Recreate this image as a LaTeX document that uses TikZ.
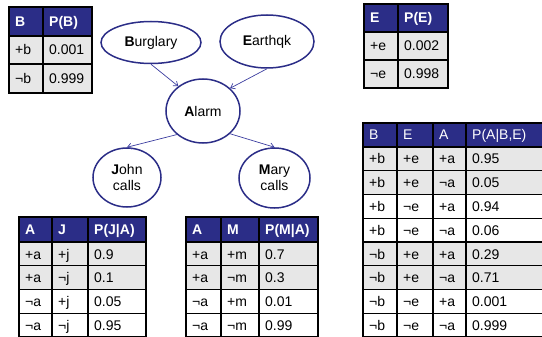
\documentclass[tikz,border=0pt]{standalone}
\usepackage{fontspec}
\setmainfont{Liberation Sans}
\usetikzlibrary{shapes.geometric,arrows.meta}
\definecolor{navy}{RGB}{43,45,135}
\definecolor{rowgray}{RGB}{231,231,231}
\definecolor{edgeblue}{RGB}{60,62,160}
\begin{document}
\begin{tikzpicture}[x=1pt,y=-1pt,
  bn/.style={ellipse, draw=navy, line width=1.5pt, inner sep=0pt, align=center,
    font=\fontsize{14}{16}\selectfont},
  edge/.style={draw=edgeblue, line width=0.7pt, -{Straight Barb[length=4pt,width=6pt]}},
  cell/.style={anchor=base west, inner sep=0pt, font=\fontsize{14}{16}\selectfont},
  hcell/.style={cell, text=white, font=\fontsize{14}{16}\selectfont\bfseries},
  hcellr/.style={cell, text=white},
  gridline/.style={line width=1.2pt, black, line cap=rect}]
\useasboundingbox (0,0) rectangle (542,337);

% ---------- Table P(B)
\fill[navy] (9,7) rectangle (92,36);
\fill[rowgray] (9,36) rectangle (92,93);
\foreach \y in {7,36,64,93} \draw[gridline] (9,\y) -- (92,\y);
\foreach \x in {9,43,92} \draw[gridline] (\x,7) -- (\x,93);
\node[hcell] (tb-h1) at (15,26.5) {B};
\node[hcell] (tb-h2) at (49,26.5) {P(B)};
\node[cell] (tb-11) at (15,55) {+b};
\node[cell] (tb-12) at (49,55) {0.001};
\node[cell] (tb-21) at (15,83.5) {¬b};
\node[cell] (tb-22) at (49,83.5) {0.999};

% ---------- Table P(E)
\fill[navy] (364,4) rectangle (448,32);
\fill[rowgray] (364,32) rectangle (448,88);
\foreach \y in {4,32,60,88} \draw[gridline] (364,\y) -- (448,\y);
\foreach \x in {364,398,448} \draw[gridline] (\x,4) -- (\x,88);
\node[hcell] (te-h1) at (370,23) {E};
\node[hcell] (te-h2) at (404,23) {P(E)};
\node[cell] (te-11) at (370,51) {+e};
\node[cell] (te-12) at (404,51) {0.002};
\node[cell] (te-21) at (370,79) {¬e};
\node[cell] (te-22) at (404,79) {0.998};

% ---------- Table P(J|A)
\fill[navy] (19,217) rectangle (146,242);
\fill[rowgray] (19,242) rectangle (146,289.5);
\foreach \y in {217,242,265.75,289.5,313.25,337} \draw[gridline] (19,\y) -- (146,\y);
\foreach \x in {19,52,88,146} \draw[gridline] (\x,217) -- (\x,338);
\node[hcell] (tj-h1) at (25,234.5) {A};
\node[hcell] (tj-h2) at (58,234.5) {J};
\node[hcell] (tj-h3) at (94,234.5) {P(J|A)};
\foreach \a/\b/\c [count=\r] in {+a/+j/0.9, +a/¬j/0.1, ¬a/+j/0.05, ¬a/¬j/0.95}{
  \node[cell] (tj-\r-1) at ({25},{242+(\r-1)*23.75+17}) {\a};
  \node[cell] (tj-\r-2) at ({58},{242+(\r-1)*23.75+17}) {\b};
  \node[cell] (tj-\r-3) at ({94},{242+(\r-1)*23.75+17}) {\c};
}

% ---------- Table P(M|A)
\fill[navy] (186,217) rectangle (318,242);
\fill[rowgray] (186,242) rectangle (318,289.5);
\foreach \y in {217,242,265.75,289.5,313.25,337} \draw[gridline] (186,\y) -- (318,\y);
\foreach \x in {186,221,259,318} \draw[gridline] (\x,217) -- (\x,338);
\node[hcell] (tm-h1) at (192,234.5) {A};
\node[hcell] (tm-h2) at (227,234.5) {M};
\node[hcell] (tm-h3) at (265,234.5) {P(M|A)};
\foreach \a/\b/\c [count=\r] in {+a/+m/0.7, +a/¬m/0.3, ¬a/+m/0.01, ¬a/¬m/0.99}{
  \node[cell] (tm-\r-1) at ({192},{242+(\r-1)*23.75+17}) {\a};
  \node[cell] (tm-\r-2) at ({227},{242+(\r-1)*23.75+17}) {\b};
  \node[cell] (tm-\r-3) at ({265},{242+(\r-1)*23.75+17}) {\c};
}

% ---------- Table P(A|B,E)
\fill[navy] (363,123) rectangle (546,147);
\fill[rowgray] (363,147) rectangle (546,194.5);
\fill[rowgray] (363,242) rectangle (546,289.5);
\foreach \y in {123,147,170.75,194.5,218.25,242,265.75,289.5,313.25,337} \draw[gridline] (363,\y) -- (546,\y);
\foreach \x in {363,397,433,466} \draw[gridline] (\x,123) -- (\x,338);
\node[hcellr] (ta-h1) at (369,140) {B};
\node[hcellr] (ta-h2) at (403,140) {E};
\node[hcellr] (ta-h3) at (439,140) {A};
\node[hcellr] (ta-h4) at (472,140) {P(A|B,E)};
\foreach \a/\b/\c/\d [count=\r] in {+b/+e/+a/0.95, +b/+e/¬a/0.05, +b/¬e/+a/0.94, +b/¬e/¬a/0.06,
   ¬b/+e/+a/0.29, ¬b/+e/¬a/0.71, ¬b/¬e/+a/0.001, ¬b/¬e/¬a/0.999}{
  \node[cell] (ta-\r-1) at ({369},{147+(\r-1)*23.75+17}) {\a};
  \node[cell] (ta-\r-2) at ({403},{147+(\r-1)*23.75+17}) {\b};
  \node[cell] (ta-\r-3) at ({439},{147+(\r-1)*23.75+17}) {\c};
  \node[cell] (ta-\r-4) at ({472},{147+(\r-1)*23.75+17}) {\d};
}

% ---------- Network
\node[bn, minimum width=100pt, minimum height=42pt] (bur) at (151,42.5) {\textbf{B}urglary};
\node[bn, minimum width=94pt, minimum height=53pt] (eq) at (267,41.5) {\textbf{E}arthqk};
\node[bn, minimum width=74pt, minimum height=64pt] (alarm) at (203,111) {\textbf{A}larm};
\node[bn, minimum width=68pt, minimum height=59pt] (john) at (127,177.5) {\textbf{J}ohn\\calls};
\node[bn, minimum width=71pt, minimum height=60pt] (mary) at (274.5,178) {\textbf{M}ary\\calls};

\draw[edge] (bur.south) -- (alarm.135);
\draw[edge] (eq.south) -- (alarm.40);
\draw[edge] (alarm.222) -- (john.north);
\draw[edge] (alarm.-40) -- (mary.north);
\end{tikzpicture}
\end{document}
